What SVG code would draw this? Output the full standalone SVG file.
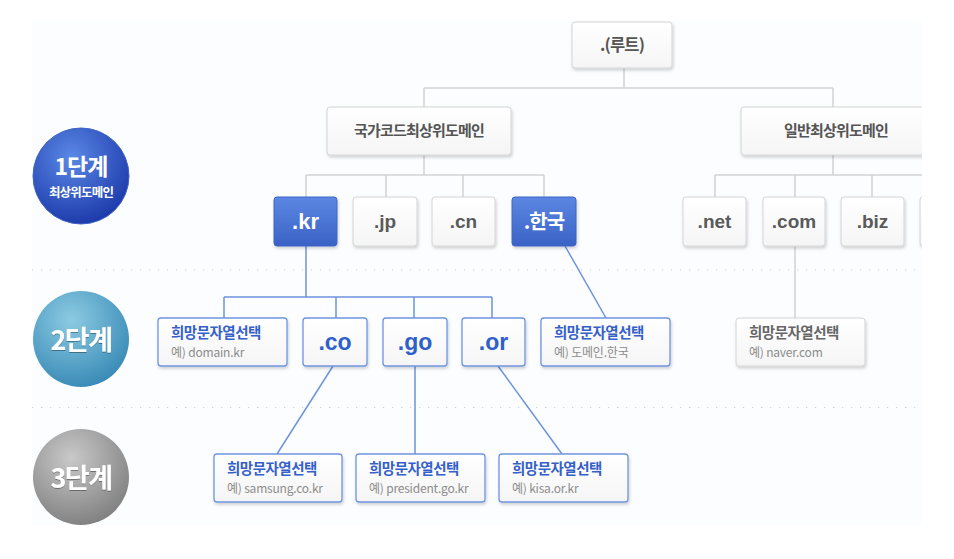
<svg xmlns="http://www.w3.org/2000/svg" width="954" height="559" viewBox="0 0 954 559">
<defs>
<style>
.bx{fill:url(#gw);stroke:#d4d4d4;stroke-width:1;filter:url(#sh)}
.bb{fill:url(#gb);stroke:#3d66c9;stroke-width:1;filter:url(#sh)}
.bl{fill:url(#gw);stroke:#6f95e0;stroke-width:1.3;filter:url(#sh)}
.t{font-family:"Noto Sans CJK KR","Liberation Sans",sans-serif;font-weight:bold;text-anchor:middle}
.tk{font-size:15px;fill:#555;letter-spacing:-0.8px}
.tl{font-family:"Liberation Sans","Noto Sans CJK KR",sans-serif;font-weight:bold;text-anchor:middle;font-size:19px;fill:#5a5a5a}
.tw{fill:#fff}
.tbl{font-family:"Liberation Sans","Noto Sans CJK KR",sans-serif;font-weight:bold;text-anchor:middle;font-size:23px;fill:#2f5fc8}
.h1{font-family:"Noto Sans CJK KR",sans-serif;font-weight:bold;font-size:14.5px;fill:#3560c9;letter-spacing:-0.5px}
.h2{font-family:"Noto Sans CJK KR","Liberation Sans",sans-serif;font-size:12px;fill:#8c8c8c;letter-spacing:-0.2px}
.g{fill:#666}
.cg{stroke:#d2d2d2;stroke-width:1.5;fill:none}
.cb{stroke:#6e93dd;stroke-width:1.5;fill:none}
.dot{stroke:#cfcfcf;stroke-width:1.2;stroke-dasharray:1.2 7.8;fill:none}
.ct{font-family:"Noto Sans CJK KR",sans-serif;font-weight:bold;fill:#fff;text-anchor:middle}
</style>
<linearGradient id="gw" x1="0" y1="0" x2="0" y2="1"><stop offset="0" stop-color="#ffffff"/><stop offset="1" stop-color="#f5f5f5"/></linearGradient>
<linearGradient id="gb" x1="0" y1="0" x2="0" y2="1"><stop offset="0" stop-color="#5c87e2"/><stop offset="1" stop-color="#3a62c6"/></linearGradient>
<radialGradient id="c1" cx="0.4" cy="0.3" r="0.75"><stop offset="0" stop-color="#5a88e6"/><stop offset="1" stop-color="#1a37a8"/></radialGradient>
<radialGradient id="c2" cx="0.4" cy="0.3" r="0.75"><stop offset="0" stop-color="#8ccbe2"/><stop offset="1" stop-color="#3688b5"/></radialGradient>
<radialGradient id="c3" cx="0.4" cy="0.3" r="0.75"><stop offset="0" stop-color="#c9c9c9"/><stop offset="1" stop-color="#7e7e7e"/></radialGradient>
<filter id="sh" x="-20%" y="-20%" width="140%" height="150%"><feDropShadow dx="1" dy="2" stdDeviation="1.5" flood-color="#000" flood-opacity="0.18"/></filter>
<filter id="ts"><feDropShadow dx="0" dy="1" stdDeviation="0.6" flood-color="#000" flood-opacity="0.35"/></filter>
<clipPath id="clip"><rect x="0" y="0" width="922" height="559"/></clipPath>
</defs>
<rect x="0" y="0" width="954" height="559" fill="#fff"/>
<rect x="32" y="20" width="890" height="505" fill="#fcfdfe"/>
<g id="dividers">
<line class="dot" x1="32" y1="270" x2="920" y2="270"/>
<line class="dot" x1="32" y1="407.5" x2="920" y2="407.5"/>
</g>
<g id="connectors" clip-path="url(#clip)">
<path class="cg" d="M624 68V88M424 88H833M424 88V107M833 88V107"/>
<path class="cg" d="M424 155V175M306 175H544M306 175V197M386 175V197M463 175V197M544 175V197"/>
<path class="cg" d="M833 155V175M715 175H924M715 175V197M795 175V197M872 175V197"/>
<path class="cg" d="M795 246V318"/>
<path class="cb" d="M306 246V297M224 297H492M224 297V318M336 297V318M414 297V318M492 297V318"/>
<path class="cb" d="M565 246L606 318"/>
<path class="cb" d="M333 366L277 454M415 366V454M498 366L562 454"/>
</g>
<g id="stage1"><circle cx="81" cy="176" r="48" fill="url(#c1)" stroke="#3d63c5" stroke-width="1"/>
<text class="ct" x="81" y="175" font-size="23" letter-spacing="-1">1단계</text>
<text class="ct" x="81" y="197" font-size="12.5" letter-spacing="-0.8">최상위도메인</text></g>
<g id="stage2"><circle cx="81" cy="339" r="48" fill="url(#c2)"/>
<text class="ct" x="81" y="350" font-size="27" letter-spacing="-1.5" filter="url(#ts)">2단계</text></g>
<g id="stage3"><circle cx="81" cy="477" r="48" fill="url(#c3)"/>
<text class="ct" x="81" y="488" font-size="27" letter-spacing="-1.5" filter="url(#ts)">3단계</text></g>
<g id="root"><rect class="bx" x="572" y="22" width="100" height="46" rx="3"/>
<text class="t tk" x="622" y="51" style="font-size:16.5px">.(루트)</text></g>
<g id="cctld"><rect class="bx" x="327" y="107" width="184" height="48" rx="3"/>
<text class="t tk" x="419" y="136">국가코드최상위도메인</text></g>
<g id="gtld" clip-path="url(#clip)"><rect class="bx" x="741" y="107" width="200" height="48" rx="3"/>
<text class="t tk" x="836" y="136">일반최상위도메인</text></g>
<g id="kr"><rect class="bb" x="274" y="197" width="63" height="49" rx="3"/>
<text class="tl tw" x="305.5" y="229" style="font-size:22px">.kr</text></g>
<g id="jp"><rect class="bx" x="353" y="197" width="64" height="49" rx="3"/>
<text class="tl" x="385" y="228">.jp</text></g>
<g id="cn"><rect class="bx" x="432" y="197" width="63" height="49" rx="3"/>
<text class="tl" x="463.5" y="228">.cn</text></g>
<g id="hanguk"><rect class="bb" x="512" y="197" width="64" height="49" rx="3"/>
<text class="t tw" x="544" y="229" font-size="20" letter-spacing="-1">.한국</text></g>
<g id="net"><rect class="bx" x="683" y="197" width="63" height="49" rx="3"/>
<text class="tl" x="714.5" y="228">.net</text></g>
<g id="com"><rect class="bx" x="763" y="197" width="62" height="49" rx="3"/>
<text class="tl" x="794" y="228">.com</text></g>
<g id="biz"><rect class="bx" x="841" y="197" width="63" height="49" rx="3"/>
<text class="tl" x="872.5" y="228">.biz</text></g>
<g id="more" clip-path="url(#clip)"><rect class="bx" x="920" y="197" width="63" height="49" rx="3"/></g>
<g id="kr-hope"><rect class="bl" x="158" y="318" width="129" height="48" rx="3"/>
<text class="h1" x="171" y="338">희망문자열선택</text>
<text class="h2" x="171" y="357">예) domain.kr</text></g>
<g id="co"><rect class="bl" x="303" y="318" width="64" height="48" rx="3"/>
<text class="tbl" x="335" y="350">.co</text></g>
<g id="go"><rect class="bl" x="383" y="318" width="64" height="48" rx="3"/>
<text class="tbl" x="415" y="350">.go</text></g>
<g id="or"><rect class="bl" x="462" y="318" width="63" height="48" rx="3"/>
<text class="tbl" x="493.5" y="350">.or</text></g>
<g id="hanguk-hope"><rect class="bl" x="541" y="318" width="129" height="48" rx="3"/>
<text class="h1" x="554" y="338">희망문자열선택</text>
<text class="h2" x="554" y="357">예) 도메인.한국</text></g>
<g id="com-hope"><rect class="bx" x="736" y="318" width="129" height="48" rx="3"/>
<text class="h1 g" x="749" y="338">희망문자열선택</text>
<text class="h2" x="749" y="357">예) naver.com</text></g>
<g id="co-hope"><rect class="bl" x="214" y="454" width="128" height="48" rx="3"/>
<text class="h1" x="227" y="474">희망문자열선택</text>
<text class="h2" x="227" y="493">예) samsung.co.kr</text></g>
<g id="go-hope"><rect class="bl" x="356" y="454" width="129" height="48" rx="3"/>
<text class="h1" x="369" y="474">희망문자열선택</text>
<text class="h2" x="369" y="493">예) president.go.kr</text></g>
<g id="or-hope"><rect class="bl" x="499" y="454" width="129" height="48" rx="3"/>
<text class="h1" x="512" y="474">희망문자열선택</text>
<text class="h2" x="512" y="493">예) kisa.or.kr</text></g>
</svg>
